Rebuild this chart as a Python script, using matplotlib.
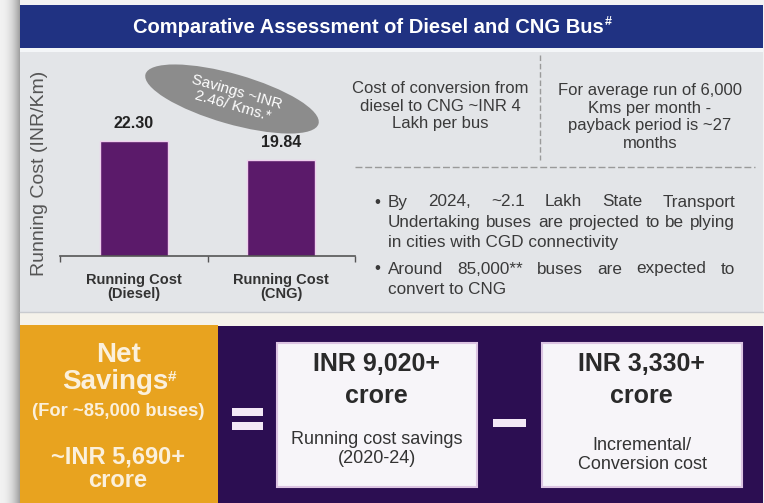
import matplotlib
matplotlib.use("Agg")
import numpy as np
import matplotlib.pyplot as plt
from matplotlib.patches import Rectangle, Ellipse

plt.rcParams['font.family'] = ['Liberation Sans', 'DejaVu Sans']

# ---------------- data ----------------
title = "Comparative Assessment of Diesel and CNG Bus"
categories = ["Running Cost\n(Diesel)", "Running Cost\n(CNG)"]
running_cost = [22.30, 19.84]
value_labels = ["22.30", "19.84"]
y_label = "Running Cost (INR/Km)"
savings_note = "Savings ~INR\n2.46/ Kms.*"
conversion_note = "Cost of conversion from\ndiesel to CNG ~INR 4\nLakh per bus"
payback_note = "For average run of 6,000\nKms per month -\npayback period is ~27\nmonths"
bullet1 = ["By 2024, ~2.1 Lakh State Transport",
           "Undertaking buses are projected to be plying",
           "in cities with CGD connectivity"]
bullet2 = ["Around 85,000** buses are expected to",
           "convert to CNG"]
net_head = ["Net", "Savings"]
net_sub = "(For ~85,000 buses)"
net_value = "~INR 5,690+\ncrore"
box1_value = "INR 9,020+\ncrore"
box1_desc = "Running cost savings\n(2020-24)"
box2_value = "INR 3,330+\ncrore"
box2_desc = "Incremental/\nConversion cost"

# ---------------- figure ----------------
W, H = 764, 503
fig = plt.figure(figsize=(W / 100, H / 100), dpi=100)
bg = fig.add_axes([0, 0, 1, 1])
bg.set_xlim(0, W)
bg.set_ylim(H, 0)
bg.axis('off')
fig.patch.set_facecolor('#f3f3f3')

# left shadow gradient
grad = np.linspace(0, 1, 64)[None, :] ** 2.2
shadow = np.ones((2, 64, 3))
c0 = np.array([0.95, 0.95, 0.95]); c1 = np.array([0.62, 0.62, 0.62])
shadow[:] = c0 + (c1 - c0) * grad[..., None]
bg.imshow(shadow, extent=(0, 20, H, 0), aspect='auto', zorder=0.5)

# title bar
bg.add_patch(Rectangle((20, 5), 743, 43, facecolor='#203282', edgecolor='none', zorder=1))
bg.add_patch(Rectangle((20, 48), 743, 4, facecolor='#f4f6f8', edgecolor='none', zorder=1))
# gray panel
bg.add_patch(Rectangle((20, 52), 743, 260, facecolor='#e3e5e8', edgecolor='none', zorder=1))
bg.plot([20, 763], [312, 312], color='#c9cbcf', lw=1, zorder=1.2)
bg.add_patch(Rectangle((20, 313), 743, 13, facecolor='#f5f2ea', edgecolor='none', zorder=1))
# bottom section
bg.add_patch(Rectangle((20, 325), 198, 178, facecolor='#e8a31f', edgecolor='none', zorder=1))
bg.add_patch(Rectangle((218, 326), 545, 177, facecolor='#2c0e52', edgecolor='none', zorder=1))

renderer = fig.canvas.get_renderer()
inv = bg.transData.inverted()


def sup_after(t, s, size, color, dy=-6, dx=1, weight='bold'):
    bb = t.get_window_extent(renderer=renderer)
    (x1, y1), = inv.transform([(bb.x1, bb.y1)])
    bg.text(x1 + dx, y1 - dy, s, fontsize=size, color=color, fontweight=weight,
            ha='left', va='top', zorder=5)


# title
tt = bg.text(368, 27, title, color='white', fontsize=14.5, fontweight='bold',
             ha='center', va='center', zorder=5)
sup_after(tt, "#", 9, 'white', dy=2, dx=1)

# ---------------- bar chart ----------------
ax = fig.add_axes([60 / W, 1 - 256 / H, 295 / W, (256 - 55) / H])
ax.set_facecolor('none')
xpos = np.arange(len(categories))
ax.bar(xpos, running_cost, width=0.46, color='#5b1a6a', edgecolor='#f0cfee', linewidth=1, zorder=2)
ax.set_xlim(-0.5, 1.5)
ax.set_ylim(7.4, 33.4)
ax.set_xticks(xpos)
ax.set_xticklabels(categories, fontweight='bold', fontsize=10.5, linespacing=1.0, color='#333333')
ax.tick_params(axis='x', which='major', length=0, pad=12)
ax.set_xticks([-0.5, 0.5, 1.5], minor=True)
ax.tick_params(axis='x', which='minor', length=4, width=1, color='#555555', direction='out')
ax.set_yticks([])
for s in ['left', 'top', 'right']:
    ax.spines[s].set_visible(False)
ax.spines['bottom'].set_color('#555555')
ax.spines['bottom'].set_linewidth(1.2)
for xi, v, lbl in zip(xpos, running_cost, value_labels):
    ax.annotate(lbl, (xi, v), xytext=(0, 7), textcoords='offset points', ha='center',
                va='bottom', fontweight='bold', fontsize=11.5, color='#222222')

bg.text(40, 173, y_label, rotation=90, fontsize=14, color='#555555', ha='center', va='center', zorder=5)

# savings ellipse
bg.add_patch(Ellipse((232, 99), 180, 50, angle=16, facecolor='#8c8c8c', edgecolor='none', zorder=3))
bg.text(235, 99, savings_note, rotation=-16, rotation_mode='anchor', fontsize=11, color='white',
        ha='center', va='center', linespacing=1.05, zorder=5)

# ---------------- right panel ----------------
txtc = '#3a3a3a'
bg.text(440, 106, conversion_note, fontsize=12, color=txtc, ha='center', va='center',
        linespacing=1.2, zorder=5)
bg.text(650, 117, payback_note, fontsize=12, color=txtc, ha='center', va='center',
        linespacing=1.2, zorder=5)
bg.plot([540, 540], [55, 160], color='#9a9a9a', lw=1, ls=(0, (4, 2)), zorder=2)
bg.plot([355, 755], [167, 167], color='#9a9a9a', lw=1, ls=(0, (5, 2)), zorder=2)


def justify(line, x0, x1, y, size, color):
    words = line.split()
    ts = [bg.text(0, y, w, fontsize=size, color=color, ha='left', va='center', zorder=5) for w in words]
    widths = []
    for t in ts:
        bb = t.get_window_extent(renderer=renderer)
        widths.append(bb.width)  # pixels == data units here
    gap = (x1 - x0 - sum(widths)) / max(len(words) - 1, 1)
    x = x0
    for t, wd in zip(ts, widths):
        t.set_x(x)
        x += wd + gap


bx0, bx1 = 388, 735
bsize = 12.3
ys1 = [202, 222.5, 243]
ys2 = [269, 289.5]
for paragraph, ys in ((bullet1, ys1), (bullet2, ys2)):
    bg.text(377, ys[0], "\u2022", fontsize=bsize, color=txtc, ha='center', va='center', zorder=5)
    for i, (line, y) in enumerate(zip(paragraph, ys)):
        if i < len(paragraph) - 1:
            justify(line, bx0, bx1, y, bsize, txtc)
        else:
            bg.text(bx0, y, line, fontsize=bsize, color=txtc, ha='left', va='center', zorder=5)

# ---------------- bottom section ----------------
cream = '#fbf0dc'
bg.text(119, 355, net_head[0], fontsize=20, fontweight='bold', color=cream, ha='center', va='center', zorder=5)
ts = bg.text(115, 382, net_head[1], fontsize=20, fontweight='bold', color=cream, ha='center', va='center', zorder=5)
sup_after(ts, "#", 11, cream, dy=-1, dx=0)
bg.text(118, 411, net_sub, fontsize=13.2, fontweight='bold', color=cream, ha='center', va='center', zorder=5)
bg.text(118, 469, net_value, fontsize=17, fontweight='bold', color=cream, ha='center', va='center',
        linespacing=1.05, zorder=5)

# equals and minus signs
bg.add_patch(Rectangle((232, 408), 31, 8, facecolor='#f3e8f6', edgecolor='none', zorder=3))
bg.add_patch(Rectangle((232, 422), 31, 8, facecolor='#f3e8f6', edgecolor='none', zorder=3))
bg.add_patch(Rectangle((493, 419), 33, 8, facecolor='#f3e8f6', edgecolor='none', zorder=3))

# boxes
for (x0, x1), val, desc, ydesc in (((277, 477), box1_value, box1_desc, 449),
                                    ((542, 742), box2_value, box2_desc, 455)):
    bg.add_patch(Rectangle((x0, 343), x1 - x0, 144, facecolor='#f7f5f9', edgecolor='#dcc4e2',
                           lw=1.5, zorder=3))
    cx = (x0 + x1) / 2
    bg.text(cx - 1, 380, val, fontsize=18, fontweight='bold', color='#2a2a2a', ha='center',
            va='center', linespacing=1.4, zorder=5)
    bg.text(cx, ydesc, desc, fontsize=13, color='#333333', ha='center', va='center',
            linespacing=1.15, zorder=5)

fig.savefig("out.png", dpi=100)
